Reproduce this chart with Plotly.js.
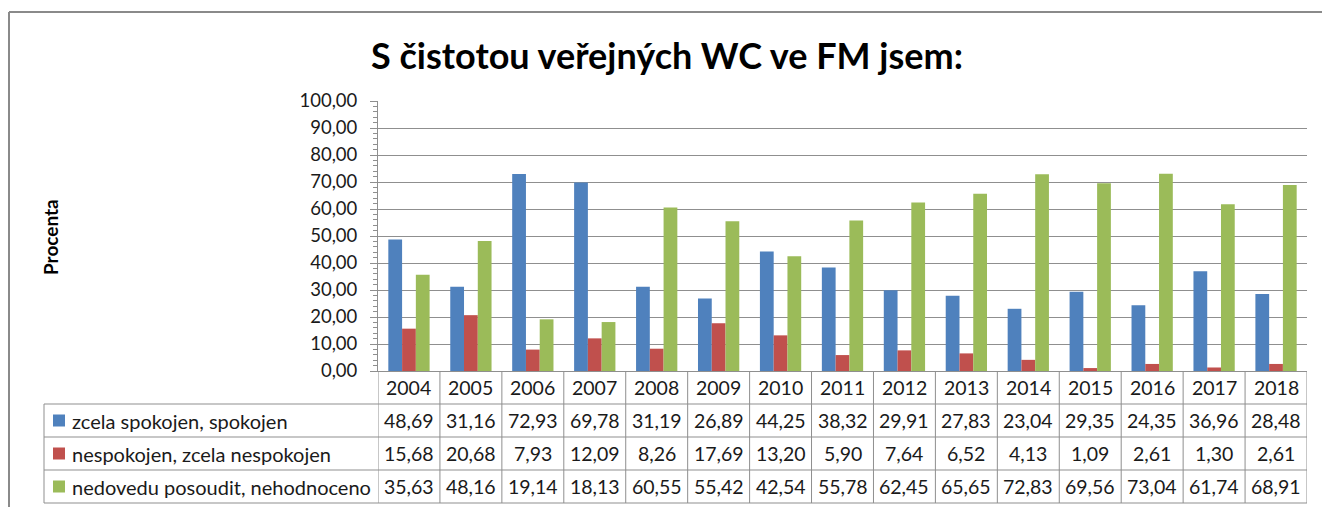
<!DOCTYPE html>
<html>
<head>
<meta charset="utf-8">
<script src="https://cdn.plot.ly/plotly-3.0.1.min.js"></script>
<style>html,body{margin:0;padding:0;background:#fff;}#chart{width:1322px;height:507px;}</style>
</head>
<body>
<div id="chart"></div>
<script>
// ---- data ----
const years = ['2004','2005','2006','2007','2008','2009','2010','2011','2012','2013','2014','2015','2016','2017','2018'];
const seriesNames = ['zcela spokojen, spokojen', 'nespokojen, zcela nespokojen', 'nedovedu posoudit, nehodnoceno'];
const spokojen    = [48.69, 31.16, 72.93, 69.78, 31.19, 26.89, 44.25, 38.32, 29.91, 27.83, 23.04, 29.35, 24.35, 36.96, 28.48];
const nespokojen  = [15.68, 20.68, 7.93, 12.09, 8.26, 17.69, 13.20, 5.90, 7.64, 6.52, 4.13, 1.09, 2.61, 1.30, 2.61];
const nedovedu    = [35.63, 48.16, 19.14, 18.13, 60.55, 55.42, 42.54, 55.78, 62.45, 65.65, 72.83, 69.56, 73.04, 61.74, 68.91];
const colors = ['#4F81BD', '#C0504D', '#9BBB59'];
const titleText = 'S čistotou veřejných WC ve FM jsem:';
const yTitle = 'Procenta';

// ---- geometry helpers (page pixels -> paper) ----
const W = 1322, H = 507;
const plotL = 378, plotR = 1307, plotT = 101, plotB = 371;
const pw = plotR - plotL, ph = plotB - plotT;
const px = x => (x - plotL) / pw;
const py = y => (plotB - y) / ph;

const FONT = 'Lato, "Open Sans", sans-serif';
const TXT = '#1a1a1a';
const LINE = '#8f8f8f';
const CELL = 19.5;

const allSeries = [spokojen, nespokojen, nedovedu];
const traces = allSeries.map((vals, i) => ({
  type: 'bar', x: years, y: vals, name: seriesNames[i],
  marker: {color: colors[i], line: {width: 0}},
  hoverinfo: 'x+y+name'
}));

// table rows
const rowLines = [404, 437, 470, 503];
const headerCenter = 387.5;
const rowCenters = [420.5, 453.5, 486.5];
const tableLeft = 44;

const shapes = [];
const annotations = [];

// horizontal table lines
rowLines.forEach(y => shapes.push({type:'line', xref:'paper', yref:'paper', x0: px(tableLeft), x1: 1, y0: py(y), y1: py(y), line:{color: LINE, width: 1}}));
// vertical lines at category boundaries
for (let k = 0; k <= years.length; k++) {
  shapes.push({type:'line', xref:'x', yref:'paper', x0: k - 0.5, x1: k - 0.5, y0: 0, y1: py(503), line:{color: LINE, width: 1}});
}
// left table edge
shapes.push({type:'line', xref:'paper', yref:'paper', x0: px(tableLeft), x1: px(tableLeft), y0: py(404), y1: py(503), line:{color: LINE, width: 1}});

// outer chart border (top & left)
shapes.push({type:'line', xref:'paper', yref:'paper', x0: px(9), x1: px(W + 5), y0: py(12), y1: py(12), line:{color:'#8a8a8a', width: 2}});
shapes.push({type:'line', xref:'paper', yref:'paper', x0: px(9), x1: px(9), y0: py(12), y1: py(H + 5), line:{color:'#8a8a8a', width: 2}});

// header years (x = category index on the category axis)
years.forEach((yr, j) => annotations.push({xref:'x', yref:'paper', x: j, y: py(headerCenter), text: yr, showarrow:false, xanchor:'center', yanchor:'middle', font:{family: FONT, size: CELL, color: TXT}}));

// rows
const fmt = v => v.toFixed(2).replace('.', ',');
allSeries.forEach((vals, i) => {
  const yc = rowCenters[i];
  shapes.push({type:'rect', xref:'paper', yref:'paper', x0: px(53), x1: px(65), y0: py(yc + 6), y1: py(yc - 6), fillcolor: colors[i], line:{width:0}});
  annotations.push({xref:'paper', yref:'paper', x: px(70), y: py(yc), text: seriesNames[i], showarrow:false, xanchor:'left', yanchor:'middle', font:{family: FONT, size: 20, color: TXT}});
  vals.forEach((v, j) => annotations.push({xref:'x', yref:'paper', x: j, y: py(yc), text: fmt(v), showarrow:false, xanchor:'center', yanchor:'middle', font:{family: FONT, size: CELL, color: TXT}}));
});

// y axis title
annotations.push({xref:'paper', yref:'paper', x: px(50), y: py(237), text: '<b>' + yTitle + '</b>', textangle: -90, showarrow:false, xanchor:'center', yanchor:'middle', font:{family: FONT, size: 19, color: '#000'}});

const layout = {
  width: W, height: H,
  margin: {l: plotL, r: W - plotR, t: plotT, b: H - plotB, pad: 0},
  paper_bgcolor: '#fff', plot_bgcolor: '#fff',
  separators: ',.',
  showlegend: false,
  barmode: 'group', bargap: 1/3, bargroupgap: 0,
  title: {text: '<b>' + titleText + '</b>', xref: 'container', yref: 'container', x: 667 / W, y: 1 - 56 / H, xanchor: 'center', yanchor: 'middle', font: {family: FONT, size: 36, color: '#000'}},
  xaxis: {type: 'category', range: [-0.5, years.length - 0.5], autorange: false, showticklabels: false, ticks: '', showgrid: false, showline: true, linecolor: LINE, linewidth: 1, zeroline: false, fixedrange: true},
  yaxis: {range: [0, 100], autorange: false, dtick: 10, tickformat: '.2f', showgrid: true, gridcolor: LINE, gridwidth: 1,
          showline: true, linecolor: LINE, linewidth: 1, zeroline: false,
          ticks: 'outside', ticklen: 7, tickcolor: LINE, ticklabelstandoff: 9,
          minor: {dtick: 2, ticks: 'outside', ticklen: 4, tickcolor: LINE, showgrid: false},
          tickfont: {family: FONT, size: 18.5, color: TXT}, fixedrange: true},
  shapes: shapes,
  annotations: annotations
};

Plotly.newPlot('chart', traces, layout, {staticPlot: true, displayModeBar: false});
</script>
</body>
</html>
